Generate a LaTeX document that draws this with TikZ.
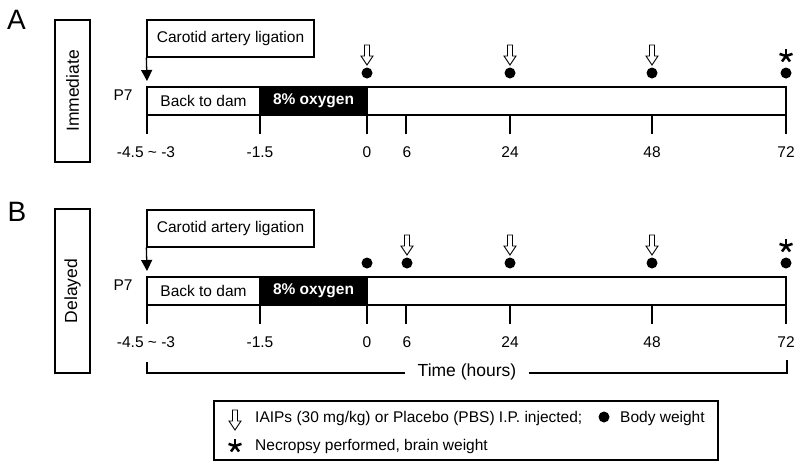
\documentclass[tikz,border=0pt]{standalone}
\usepackage{fontspec}
\setmainfont{Liberation Sans}
\usetikzlibrary{arrows.meta}
\begin{document}
\begin{tikzpicture}[x=1pt,y=-1pt,
  every node/.style={font=\fontsize{15.5}{18}\selectfont, inner sep=0pt},
  bigtext/.style={font=\fontsize{17.5}{20}\selectfont},
  ln/.style={line width=1.3pt},
  frame/.style={draw, line width=1.3pt, inner sep=0pt},
  panellab/.style={font=\fontsize{28}{30}\selectfont},
  bdot/.style={circle, fill=black, minimum size=11pt, inner sep=0pt},
  harrow/.pic={\draw[line width=0.9pt, fill=white] (-2.5,0) -- (2.5,0) -- (2.5,11) -- (6,11) -- (0,20) -- (-6,11) -- (-2.5,11) -- cycle;},
  astk/.pic={\foreach \a in {90,18,162,234,306} \draw[line width=2.5pt] (0,0) -- ({cos(\a)*6.8},{-sin(\a)*6.8});},
  ligarrow/.style={ln, -{Triangle[width=11pt,length=11pt]}},
]
\useasboundingbox[fill=white] (0,0) rectangle (800,467);

% ---------------- Panel A ----------------
\node[panellab] (a-lab) at (16.5,20) {A};
\node[frame, bigtext, rotate=90, minimum width=142pt, minimum height=35pt] (a-cond) at (72.5,91) {Immediate};
\node[frame, minimum width=167pt, minimum height=37pt] (a-car) at (230.5,38.5) {Carotid artery ligation};
\coordinate (a-tip) at (147,81);
\draw[ligarrow] (a-car.south west) -- (a-tip);
\node (a-p7) at (123,95) {P7};
\node[frame, minimum width=639pt, minimum height=28pt] (a-tl) at (466.5,101) {};
\node (a-back) at (203.5,101) {Back to dam};
\node[frame, fill=black, text=white, font={\fontsize{15.5}{18}\selectfont\bfseries}, minimum width=107pt, minimum height=28pt] (a-hyp) at (313.5,101) {8\% oxygen};
\foreach \x in {147,260,367,406,510,652,786} \draw[ln] (\x,115) -- (\x,134);
\node (a-t1) at (146,152) {-4.5 \textasciitilde{} -3};
\node (a-t2) at (260,152) {-1.5};
\node (a-t3) at (367,152) {0};
\node (a-t4) at (407,152) {6};
\node (a-t5) at (510,152) {24};
\node (a-t6) at (652,152) {48};
\node (a-t7) at (786,152) {72};
\node[bdot] (a-d1) at (367,73) {};
\node[bdot] (a-d2) at (510,73) {};
\node[bdot] (a-d3) at (652,73) {};
\node[bdot] (a-d4) at (786,73) {};
\pic at (367,45) {harrow};
\pic at (510,45) {harrow};
\pic at (652,45) {harrow};
\pic at (786,56) {astk};

% ---------------- Panel B ----------------
\node[panellab] (b-lab) at (17,212) {B};
\node[frame, bigtext, rotate=90, minimum width=164pt, minimum height=35pt] (b-cond) at (72.5,291) {Delayed};
\node[frame, minimum width=167pt, minimum height=37pt] (b-car) at (230.5,228.5) {Carotid artery ligation};
\coordinate (b-tip) at (147,271);
\draw[ligarrow] (b-car.south west) -- (b-tip);
\node (b-p7) at (123,285) {P7};
\node[frame, minimum width=639pt, minimum height=28pt] (b-tl) at (466.5,291) {};
\node (b-back) at (203.5,291) {Back to dam};
\node[frame, fill=black, text=white, font={\fontsize{15.5}{18}\selectfont\bfseries}, minimum width=107pt, minimum height=28pt] (b-hyp) at (313.5,291) {8\% oxygen};
\foreach \x in {147,260,367,406,510,652,786} \draw[ln] (\x,305) -- (\x,324);
\node (b-t1) at (146,342) {-4.5 \textasciitilde{} -3};
\node (b-t2) at (260,342) {-1.5};
\node (b-t3) at (367,342) {0};
\node (b-t4) at (407,342) {6};
\node (b-t5) at (510,342) {24};
\node (b-t6) at (652,342) {48};
\node (b-t7) at (786,342) {72};
\node[bdot] (b-d0) at (367,263) {};
\node[bdot] (b-d1) at (407,263) {};
\node[bdot] (b-d2) at (510,263) {};
\node[bdot] (b-d3) at (652,263) {};
\node[bdot] (b-d4) at (786,263) {};
\pic at (407,235) {harrow};
\pic at (510,235) {harrow};
\pic at (652,235) {harrow};
\pic at (786,246) {astk};
\draw[ln] (147,362) -- (147,373) -- (787,373) -- (787,360);
\node[bigtext, fill=white, inner xsep=13pt, inner ysep=2pt] (b-time) at (467,372) {Time (hours)};

% ---------------- Legend ----------------
\node[frame, minimum width=504pt, minimum height=59pt] (leg) at (466,430.5) {};
\pic at (235,410) {harrow};
\node[anchor=base west] (leg-t1) at (255,422) {IAIPs (30 mg/kg) or Placebo (PBS) I.P. injected;};
\node[bdot] (leg-dot) at (604,417) {};
\node[anchor=base west] (leg-t2) at (620,422) {Body weight};
\pic at (235,446) {astk};
\node[anchor=base west] (leg-t3) at (255,450) {Necropsy performed, brain weight};
\end{tikzpicture}
\end{document}
